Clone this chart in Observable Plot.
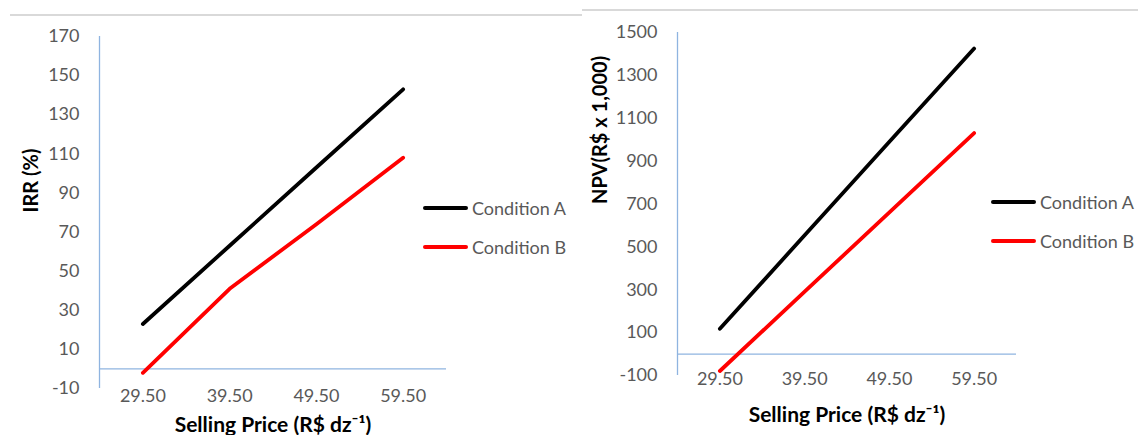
<!DOCTYPE html>
<html>
<head>
<meta charset="utf-8">
<script src="https://cdn.jsdelivr.net/npm/d3@7"></script>
<script src="https://cdn.jsdelivr.net/npm/@observablehq/plot@0.6"></script>
<style>
  html, body { margin: 0; padding: 0; background: #fff; }
  #root { position: relative; width: 1138px; height: 435px; overflow: hidden; background: #fff; font-family: Lato, "Open Sans", sans-serif; }
  .panel { position: absolute; top: 0; }
  .hr { position: absolute; height: 2px; background: #d9d9d9; }
  .legend { position: absolute; color: #595959; font-size: 18px; }
  .legend .item { position: absolute; left: 0; display: flex; align-items: center; white-space: nowrap; }
  .legend .sw { display: inline-block; width: 45px; height: 4px; border-radius: 2px; margin-right: 4px; }
</style>
</head>
<body>
<div id="root">
  <div class="hr" style="left:10px; top:14px; width:560px;"></div>
  <div class="hr" style="left:570px; top:14px; width:12px;"></div>
  <div class="hr" style="left:582px; top:9px; width:556px;"></div>
  <div class="panel" id="left" style="left:0px;"></div>
  <div class="panel" id="right" style="left:570px;"></div>
  <div class="legend" id="legL" style="left:423px; top:0px;"></div>
  <div class="legend" id="legR" style="left:991px; top:0px;"></div>
</div>
<script>
// ---- data ----
const prices = [29.5, 39.5, 49.5, 59.5];
const conditions = ["Condition A", "Condition B"];
const seriesColors = ["#000000", "#ff0000"];
const irrA = [23, 63, 103, 143];
const irrB = [-2, 41, 74, 108];
const npvA = [118, 554, 990, 1425];
const npvB = [-79, 291, 661, 1031];
const irrTicks = [-10, 10, 30, 50, 70, 90, 110, 130, 150, 170];
const npvTicks = [-100, 100, 300, 500, 700, 900, 1100, 1300, 1500];
const xTitle = "Selling Price (R$ dz\u207B\u00B9)";
const irrTitle = "IRR (%)";
const npvTitle = "NPV(R$ x 1,000)";

const axisBlue = "#8fb4e0";

function rows(a, b) {
  const out = [];
  prices.forEach((p, i) => out.push({price: p, value: a[i], cond: conditions[0]}));
  prices.forEach((p, i) => out.push({price: p, value: b[i], cond: conditions[1]}));
  return out;
}

function chart({width, mL, mR, mT, mB, yDomain, yTicks, data, yTitle, xTitleDy, yTitleDx, xTickPad}) {
  return Plot.plot({
    width, height: 435,
    marginLeft: mL, marginRight: mR, marginTop: mT, marginBottom: mB,
    x: {domain: [24.5, 64.5]},
    y: {domain: yDomain},
    color: {domain: conditions, range: seriesColors},
    style: {fontFamily: "Lato, 'Open Sans', sans-serif", fontSize: "18px", color: "#595959", background: "transparent", overflow: "visible"},
    marks: [
      Plot.ruleX([24.5], {stroke: axisBlue, strokeWidth: 1.3}),
      Plot.ruleY([0], {stroke: axisBlue, strokeWidth: 1.3}),
      Plot.axisY({ticks: yTicks, tickSize: 0, tickPadding: 20, label: null, tickFormat: d => String(d), fontSize: 18}),
      Plot.axisX({ticks: prices, tickSize: 0, tickPadding: xTickPad, label: null, tickFormat: d => d.toFixed(2), fontSize: 18}),
      Plot.line(data, {x: "price", y: "value", z: "cond", stroke: "cond", strokeWidth: 3.8, strokeLinecap: "round", strokeLinejoin: "round"}),
      Plot.text([xTitle], {text: d => d, frameAnchor: "bottom", dy: xTitleDy, fontWeight: "bold", fill: "#000", fontSize: 21}),
      Plot.text([yTitle], {text: d => d, frameAnchor: "left", dx: yTitleDx, rotate: -90, fontWeight: "bold", fill: "#000", fontSize: 20})
    ]
  });
}

document.getElementById("left").append(chart({
  width: 570, mL: 99, mR: 124, mT: 36, mB: 47,
  yDomain: [-10, 170], yTicks: irrTicks, data: rows(irrA, irrB),
  yTitle: irrTitle, xTitleDy: 43, yTitleDx: -68, xTickPad: 1
}));
document.getElementById("right").append(chart({
  width: 568, mL: 107, mR: 122, mT: 32, mB: 60,
  yDomain: [-100, 1500], yTicks: npvTicks, data: rows(npvA, npvB),
  yTitle: npvTitle, xTitleDy: 46, yTitleDx: -77, xTickPad: -3
}));

function legend(el, ys) {
  conditions.forEach((c, i) => {
    const item = document.createElement("div");
    item.className = "item";
    item.style.top = (ys[i] - 12) + "px";
    item.style.height = "24px";
    const sw = document.createElement("span");
    sw.className = "sw";
    sw.style.background = seriesColors[i];
    const t = document.createElement("span");
    t.textContent = c;
    item.append(sw, t);
    el.append(item);
  });
}
legend(document.getElementById("legL"), [208, 247]);
legend(document.getElementById("legR"), [202, 241]);
</script>
</body>
</html>
